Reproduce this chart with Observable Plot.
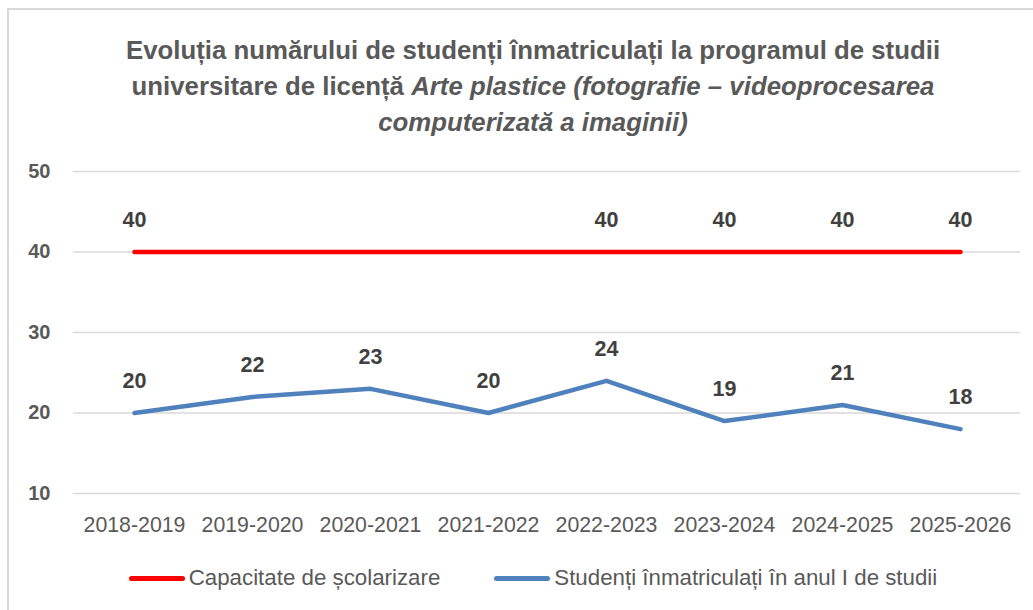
<!DOCTYPE html>
<html>
<head>
<meta charset="utf-8">
<script src="https://cdn.jsdelivr.net/npm/d3@7"></script>
<script src="https://cdn.jsdelivr.net/npm/@observablehq/plot@0.6"></script>
<style>
  body { margin: 0; background: #fff; }
  #wrap { position: relative; width: 1033px; height: 610px; overflow: hidden; background: #fff; font-family: "Liberation Sans", Arial, sans-serif; }
  #frame { position: absolute; left: 7px; top: 8px; width: 1100px; height: 700px; border: 2px solid #d9d9d9; }
  #title { position: absolute; left: 0; width: 1066px; top: 32px; text-align: center; color: #595959; font-weight: bold; font-size: 25.8px; line-height: 36px; }
  #chart { position: absolute; left: 0; top: 150px; }
  #legend { position: absolute; top: 566px; left: 0; width: 1066px; display: flex; justify-content: center; align-items: center; color: #595959; font-size: 22.3px; height: 24px; }
  .sw { display: inline-block; width: 56px; height: 5px; border-radius: 3px; margin-right: 4px; }
  .item { display: flex; align-items: center; margin: 0 27px; }
</style>
</head>
<body>
<div id="wrap">
  <div id="frame"></div>
  <div id="title">Evoluția numărului de studenți înmatriculați la programul de studii<br>universitare de licență <i>Arte plastice (fotografie – videoprocesarea<br>computerizată a imaginii)</i></div>
  <div id="chart"></div>
  <div id="legend"></div>
</div>
<script>
const years = ["2018-2019","2019-2020","2020-2021","2021-2022","2022-2023","2023-2024","2024-2025","2025-2026"];
const capacity = [40,40,40,40,40,40,40,40];
const students = [20,22,23,20,24,19,21,18];
const capacityLabelShown = [true,false,false,false,true,true,true,true];
const yTicks = [10,20,30,40,50];
const seriesNames = ["Capacitate de școlarizare","Studenți înmatriculați în anul I de studii"];
const seriesColors = ["#ff0000","#4f81bd"];

const capRows = years.map((y,i) => ({year:y, value:capacity[i], show:capacityLabelShown[i]}));
const stuRows = years.map((y,i) => ({year:y, value:students[i]}));

const chart = Plot.plot({
  width: 1033,
  height: 390,
  marginLeft: 73,
  marginRight: 13,
  marginTop: 21,
  marginBottom: 47,
  style: { fontFamily: "'Liberation Sans', Arial, sans-serif", background: "transparent", overflow: "visible" },
  x: { type: "point", domain: years, padding: 0.5, label: null },
  y: { domain: [10, 50], label: null },
  marks: [
    Plot.gridY(yTicks, { stroke: "#d9d9d9", strokeOpacity: 1, strokeWidth: 1.5 }),
    Plot.axisY(yTicks, { tickSize: 0, tickPadding: 23, fontSize: 20, fontWeight: "bold", color: "#595959", label: null }),
    Plot.axisX({ tickSize: 0, tickPadding: 23, fontSize: 21.3, color: "#595959", label: null }),
    Plot.line(capRows, { x: "year", y: "value", stroke: seriesColors[0], strokeWidth: 4.5, strokeLinecap: "round" }),
    Plot.line(stuRows, { x: "year", y: "value", stroke: seriesColors[1], strokeWidth: 4.5, strokeLinecap: "round", strokeLinejoin: "round" }),
    Plot.text(capRows.filter(d => d.show), { x: "year", y: "value", text: d => String(d.value), dy: -32, fontSize: 21.5, fontWeight: "bold", fill: "#404040" }),
    Plot.text(stuRows, { x: "year", y: "value", text: d => String(d.value), dy: -32, fontSize: 21.5, fontWeight: "bold", fill: "#404040" })
  ]
});
document.getElementById("chart").appendChild(chart);

const legend = document.getElementById("legend");
seriesNames.forEach((name, i) => {
  const item = document.createElement("div");
  item.className = "item";
  const sw = document.createElement("span");
  sw.className = "sw";
  sw.style.background = seriesColors[i];
  item.appendChild(sw);
  const t = document.createElement("span");
  t.textContent = name;
  item.appendChild(t);
  legend.appendChild(item);
});
</script>
</body>
</html>
